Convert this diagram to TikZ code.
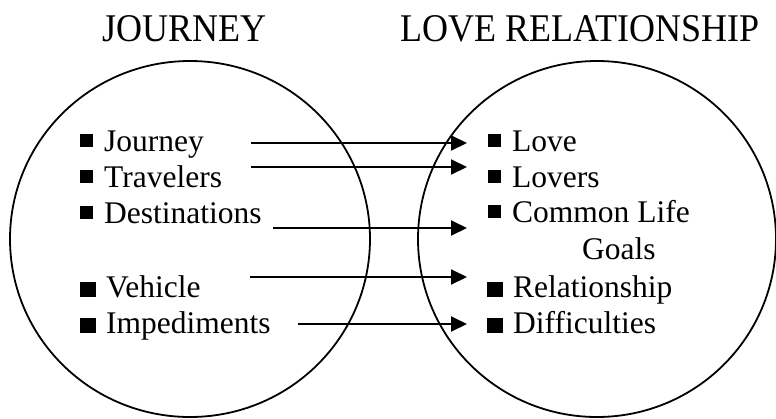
\documentclass[tikz,border=0pt]{standalone}
\usepackage{fontspec}
\setmainfont{Liberation Serif}
\usetikzlibrary{arrows.meta,shapes.geometric}

% small and large square bullets
\newcommand{\smallsq}{\rule[4pt]{13pt}{13pt}\hspace{11pt}}
\newcommand{\largesq}{\rule{16pt}{15pt}\hspace{10pt}}

\begin{document}
\begin{tikzpicture}[x=1pt,y=-1pt,
  heading/.style={anchor=base west,inner sep=0pt,font=\fontsize{36}{40}\selectfont},
  item/.style={anchor=base west,inner sep=0pt,font=\fontsize{31.5}{36}\selectfont},
  field/.style={draw,ellipse,line width=1.8pt,inner sep=0pt},
  mapping/.style={line width=2pt,-{Triangle[length=16pt,width=15pt]}}]
\useasboundingbox (0,0) rectangle (776,418);

% headings, set slightly tall
\node[heading] (hsrc) at (102,41) {\scalebox{1}[1.09]{JOURNEY}};
\node[heading] (htgt) at (400,41) {\scalebox{1}[1.09]{LOVE RELATIONSHIP}};

% the two domains
\node[field,minimum width=360pt,minimum height=356pt] (src) at (190,239) {};
\node[field,minimum width=358pt,minimum height=356pt] (tgt) at (597,239) {};

% source items
\node[item] (s1) at (80,151) {\smallsq Journey};
\node[item] (s2) at (80,187) {\smallsq Travelers};
\node[item] (s3) at (80,223) {\smallsq Destinations};
\node[item] (s4) at (80,297) {\largesq Vehicle};
\node[item] (s5) at (80,333) {\largesq Impediments};

% target items
\node[item] (t1) at (488,151) {\smallsq Love};
\node[item] (t2) at (488,187) {\smallsq Lovers};
\node[item] (t3) at (488,222) {\smallsq Common Life};
\node[item] (t3b) at (582,259) {Goals};
\node[item] (t4) at (487,297) {\largesq Relationship};
\node[item] (t5) at (487,333) {\largesq Difficulties};

% arrow end points
\coordinate (a1) at (251,143);  \coordinate (b1) at (467,143);
\coordinate (a2) at (251,167);  \coordinate (b2) at (467,167);
\coordinate (a3) at (273,228);  \coordinate (b3) at (467,228);
\coordinate (a4) at (250,277);  \coordinate (b4) at (467,277);
\coordinate (a5) at (298,324);  \coordinate (b5) at (467,324);

\draw[mapping] (a1) -- (b1);
\draw[mapping] (a2) -- (b2);
\draw[mapping] (a3) -- (b3);
\draw[mapping] (a4) -- (b4);
\draw[mapping] (a5) -- (b5);
\end{tikzpicture}
\end{document}
